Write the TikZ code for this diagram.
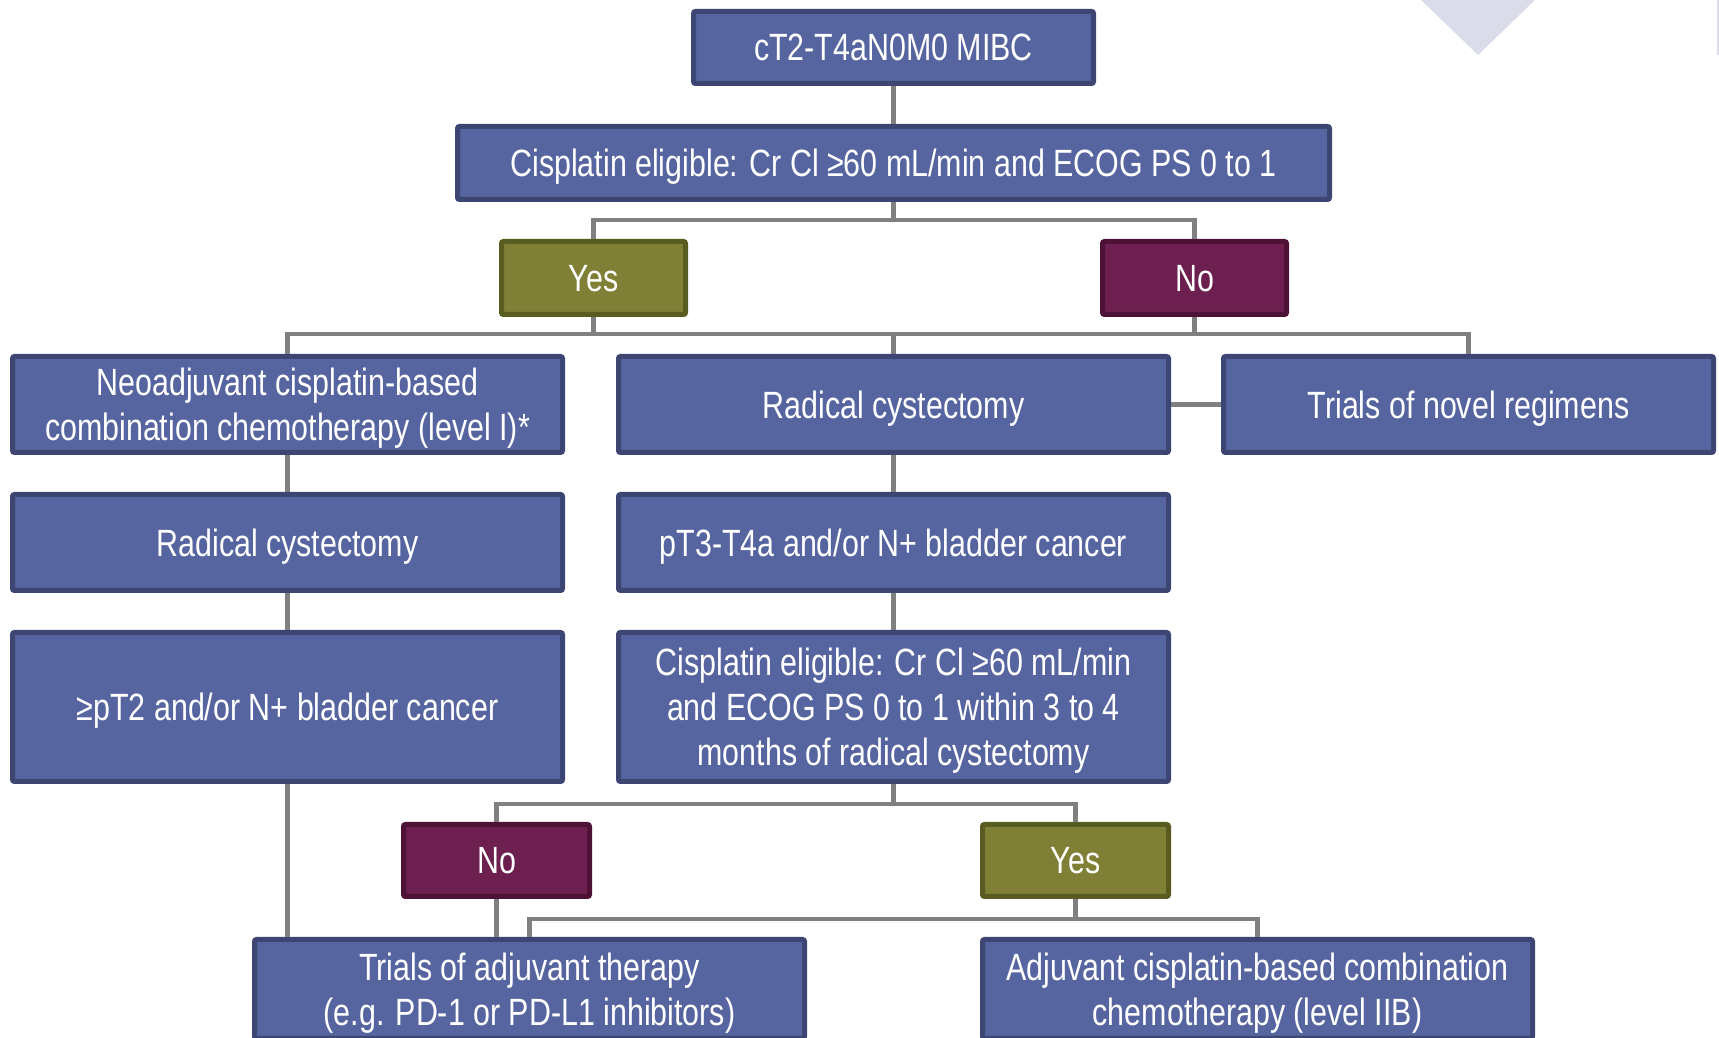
\documentclass[tikz,border=0pt]{standalone}
\usepackage{fontspec}
\setmainfont{Liberation Sans}[FakeStretch=0.80]
\usetikzlibrary{positioning}

\definecolor{boxfill}{HTML}{5664A0}
\definecolor{boxline}{HTML}{3D4672}
\definecolor{yesfill}{HTML}{7F8035}
\definecolor{yesline}{HTML}{585C20}
\definecolor{nofill}{HTML}{6D1F4F}
\definecolor{noline}{HTML}{4D1236}
\definecolor{linkgray}{HTML}{808080}
\definecolor{decofill}{HTML}{DADCEA}

\tikzset{
  box/.style={draw=boxline, fill=boxfill, line width=5pt, rounded corners=2pt,
    text=white, align=center, inner sep=0pt, text depth=0pt,
    font=\fontsize{38}{45}\selectfont},
  wide/.style={box, minimum width=550pt, minimum height=96pt},
  yesbox/.style={box, draw=yesline, fill=yesfill, minimum width=184pt, minimum height=73pt},
  nobox/.style={box, draw=noline, fill=nofill, minimum width=184pt, minimum height=73pt},
  link/.style={draw=linkgray, line width=4.5pt}
}

\begin{document}
\begin{tikzpicture}
  \useasboundingbox (0,0) rectangle (1719pt,1038pt);
  % corner decoration
  \fill[decofill] (1421pt,1038pt) -- (1535pt,1038pt) -- (1478pt,983pt) -- cycle;
  \draw[decofill, line width=1.5pt] (1718pt,1038pt) -- (1718pt,983pt);

  \node[box, minimum width=400pt, minimum height=72pt] (mibc) at (893.5pt,990.5pt) {cT2-T4aN0M0 MIBC};
  \node[box, minimum width=872pt, minimum height=73pt, below=38pt of mibc] (elig) {Cisplatin eligible: Cr Cl ≥60 mL/min and ECOG PS 0 to 1};
  \node[yesbox, below=37pt of elig, xshift=-300pt] (yes1) {Yes};
  \node[nobox, below=37pt of elig, xshift=301pt] (no1) {No};

  \node[wide, below=152pt of elig] (rc1) {Radical cystectomy};
  \node[wide, left=51pt of rc1] (neo) {Neoadjuvant cisplatin-based\\combination chemotherapy (level I)*};
  \node[wide, minimum width=490pt, right=50pt of rc1] (novel) {Trials of novel regimens};

  \node[wide, below=37pt of neo] (rc2) {Radical cystectomy};
  \node[wide, below=37pt of rc1] (pt3) {pT3-T4a and/or N+ bladder cancer};
  \node[wide, minimum height=149pt, below=37pt of rc2] (pt2) {≥pT2 and/or N+ bladder cancer};
  \node[wide, minimum height=149pt, below=37pt of pt3] (elig2) {Cisplatin eligible: Cr Cl ≥60 mL/min\\and ECOG PS 0 to 1 within 3 to 4\\months of radical cystectomy};

  \node[nobox, minimum width=186pt, minimum height=72pt, below=38pt of elig2, xshift=-397pt] (no2) {No};
  \node[yesbox, minimum width=186pt, minimum height=72pt, below=38pt of elig2, xshift=182pt] (yes2) {Yes};

  \node[wide, minimum height=99pt, below=38pt of no2, xshift=33pt] (adjtr) {Trials of adjuvant therapy\\(e.g. PD-1 or PD-L1 inhibitors)};
  \node[wide, minimum height=99pt, below=38pt of yes2, xshift=182pt] (adjchemo) {Adjuvant cisplatin-based combination\\chemotherapy (level IIB)};

  \draw[link] (mibc) -- (elig);
  \draw[link] (elig.south) -- ++(0,-18pt) -| (yes1.north);
  \draw[link] (elig.south) -- ++(0,-18pt) -| (no1.north);
  \draw[link] (yes1.south) -- ++(0,-17pt) -| (neo.north);
  \draw[link] (yes1.south) -- ++(0,-17pt) -| (rc1.north);
  \draw[link] (no1.south) -- ++(0,-17pt) -| (rc1.north);
  \draw[link] (no1.south) -- ++(0,-17pt) -| (novel.north);
  \draw[link] (rc1) -- (novel);
  \draw[link] (neo) -- (rc2);
  \draw[link] (rc2) -- (pt2);
  \draw[link] (rc1) -- (pt3);
  \draw[link] (pt3) -- (elig2);
  \draw[link] (elig2.south) -- ++(0,-20pt) -| (no2.north);
  \draw[link] (elig2.south) -- ++(0,-20pt) -| (yes2.north);
  \draw[link] (pt2.south) -- (pt2.south |- adjtr.north);
  \draw[link] (no2.south) -- (no2.south |- adjtr.north);
  \draw[link] (yes2.south) -- ++(0,-20pt) -| (adjtr.north);
  \draw[link] (yes2.south) -- ++(0,-20pt) -| (adjchemo.north);
\end{tikzpicture}
\end{document}
